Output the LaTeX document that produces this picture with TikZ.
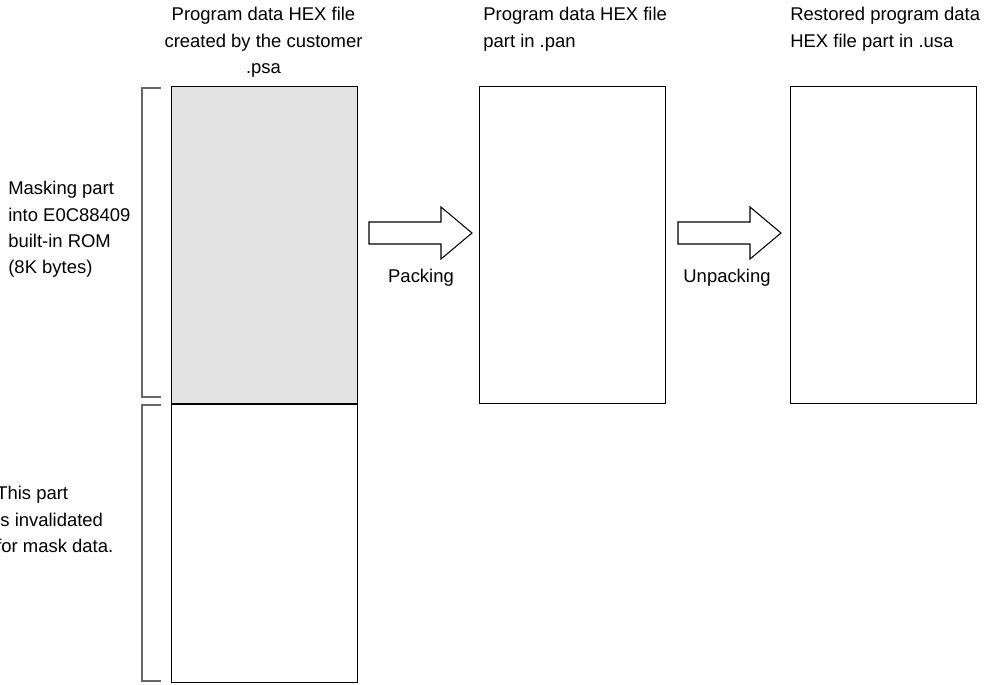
\documentclass[tikz,border=0pt]{standalone}
\usepackage{fontspec}
\setmainfont{Liberation Sans}
\usetikzlibrary{positioning}
\tikzstyle{filebox}=[draw,line width=0.6pt,rectangle,anchor=north west,inner sep=0pt,minimum width=3.72cm]
\tikzstyle{caption}=[inner sep=0pt,font=\fontsize{10.5}{15}\selectfont]
\tikzstyle{brace}=[draw=black!60,line width=0.6pt]
\tikzstyle{blockarrow}=[draw,line width=0.6pt,fill=white]

\begin{document}
\begin{tikzpicture}[x=0.02cm,y=-0.02cm]
\useasboundingbox (0,0) rectangle (997,684);
\clip (0,0) rectangle (997,684);

% file boxes
\node [filebox,fill=black!11,minimum height=6.34cm] (psa) at (171,86) {};
\node [filebox,minimum height=5.56cm] (psarest) at (psa.south west) {};
\node [filebox,minimum height=6.34cm] (pan) at (479,86) {};
\node [filebox,minimum height=6.34cm] (usa) at (790,86) {};

\node [caption,anchor=north,align=center] (psalbl) at (263.5,7) {Program data HEX file\\created by the customer\\.psa};
\node [caption,anchor=north west,align=left] (panlbl) at (483,7) {Program data HEX file\\part in .pan};
\node [caption,anchor=north west,align=left] (usalbl) at (790,7) {Restored program data\\HEX file part in .usa};

% brackets on the left
\draw [brace] (161,88) -| (142,397) -- (161,397);
\draw [brace] (161,405) -| (142,681) -- (161,681);
\node [caption,anchor=north west,align=left] (masklbl) at (8,181) {Masking part\\into E0C88409\\built-in ROM\\(8K bytes)};
\node [caption,anchor=north west,align=left] (invlbl) at (-4,486) {This part\\is invalidated\\for mask data.};

% packing / unpacking
\draw [blockarrow] (369,222) -- (441,222) -- (441,207) -- (472,233) -- (441,259) -- (441,244) -- (369,244) -- cycle;
\draw [blockarrow] (678,222) -- (750,222) -- (750,207) -- (781,233) -- (750,259) -- (750,244) -- (678,244) -- cycle;
\node [caption,anchor=base] (packlbl) at (421,282) {Packing};
\node [caption,anchor=base] (unpacklbl) at (727,282) {Unpacking};
\end{tikzpicture}
\end{document}
